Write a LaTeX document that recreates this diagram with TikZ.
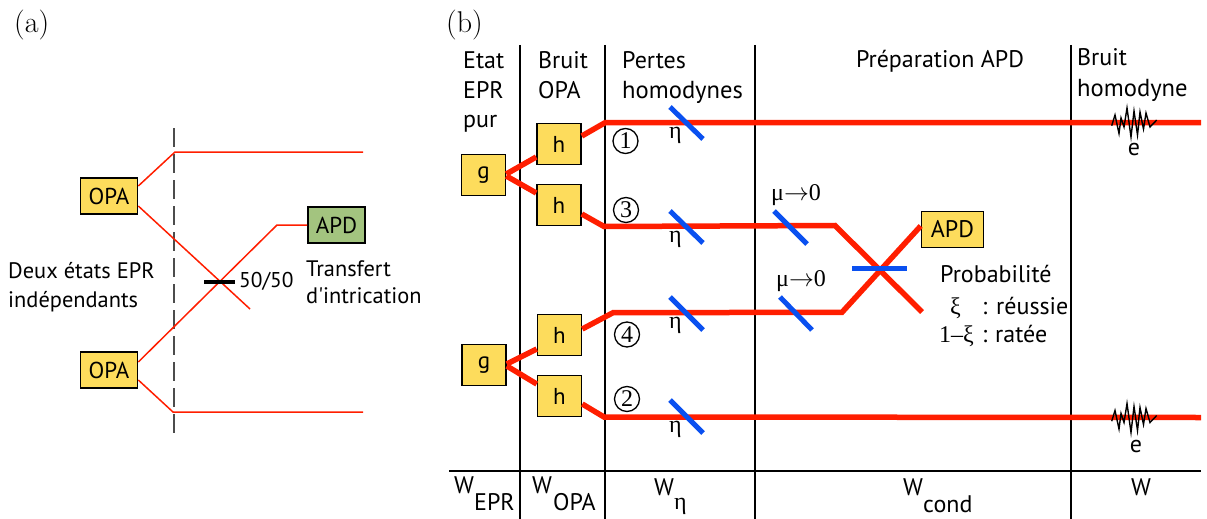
\documentclass[tikz,border=0pt]{standalone}
\usepackage{fontspec}
\setmainfont{PT Sans}[Ligatures=TeXOff]
\newfontfamily\gr{Liberation Serif}
\newfontfamily\lm{Latin Modern Roman}
\usetikzlibrary{calc}
\definecolor{boxy}{HTML}{FDDC5C}
\definecolor{boxg}{HTML}{A3C47F}
\definecolor{rd}{HTML}{FF1E00}
\definecolor{bl}{HTML}{0A50F0}
\tikzset{
  x=1pt,y=-1pt,
  lab/.style={anchor=base west,inner sep=0pt,font=\fontsize{24}{28}\selectfont},
  laba/.style={anchor=base west,inner sep=0pt,font=\fontsize{22.4}{26}\selectfont},
  tag/.style={anchor=base west,inner sep=0pt,font=\fontsize{30}{34}\selectfont},
  greek/.style={anchor=base west,inner sep=0pt,font=\fontsize{24}{28}\selectfont\gr},
  yb/.style={draw=black,line width=1.6pt,fill=boxy,inner sep=0pt,font=\fontsize{23}{27}\selectfont},
  gb/.style={draw=black,line width=1.6pt,fill=boxg,inner sep=0pt,font=\fontsize{23}{27}\selectfont},
  thin red/.style={draw=rd,line width=1.5pt},
  thick red/.style={draw=rd,line width=5.5pt},
  bs/.style={draw=bl,line width=5pt},
  sep/.style={draw=black,line width=1.8pt},
  num/.style={circle,draw=black,line width=1.3pt,minimum size=25pt,inner sep=0pt,font=\fontsize{24}{28}\selectfont\gr},
  noise/.style={draw=black,line width=1.4pt,line join=miter}
}
\begin{document}
\begin{tikzpicture}
\useasboundingbox (0,0) rectangle (1207,519);
% ---------- (a)
\node[tag] (la) at (14,33) {\lm (a)};
\draw[draw=black!70,line width=1.2pt,dash pattern=on 19pt off 7pt] (174,128) coordinate (dt) -- (174,435) coordinate (db);
\coordinate (a1) at (175,152); \coordinate (a1e) at (363,152);
\coordinate (a2e) at (250,309);
\coordinate (a3) at (277,225);
\coordinate (a4) at (173,412); \coordinate (a4e) at (363,412);
\node[yb,minimum width=57pt,minimum height=36pt] (opa1) at (109,196) {OPA};
\node[yb,minimum width=57pt,minimum height=36pt] (opa2) at (109,370) {OPA};
\node[gb,minimum width=57pt,minimum height=36pt] (apd1) at (336.5,225) {APD};
\draw[thin red] ($(opa1.east)+(0,-10)$) -- (a1) -- (a1e);
\draw[thin red] ($(opa1.east)+(0,10)$) -- (a2e);
\draw[thin red] ($(opa2.east)+(0,-8)$) -- (a3) -- (apd1.west);
\draw[thin red] ($(opa2.east)+(0,10)$) -- (a4) -- (a4e);
\coordinate (s1) at (204,282); \coordinate (s2) at (235,282);
\draw[draw=black,line width=3.5pt] (s1) -- (s2);
\node[laba,font=\fontsize{21.4}{26}\selectfont] (t5050) at (239,287) {50/50};
\node[laba] (t1) at (306,276) {Transfert};
\node[laba] (t2) at (306,303) {d'intrication};
\node[laba] (t3) at (8,278) {Deux états EPR};
\node[laba] (t4) at (8,307) {indépendants};
% ---------- (b)
\node[tag] (lb) at (446,33) {\lm (b)};
\coordinate (v1t) at (520,45); \coordinate (v1b) at (520,519);
\coordinate (v2t) at (605,45); \coordinate (v2b) at (605,519);
\coordinate (v3t) at (755,45); \coordinate (v3b) at (755,519);
\coordinate (v4t) at (1071,45); \coordinate (v4b) at (1071,519);
\coordinate (hl) at (449,471); \coordinate (hr) at (1201,471);
\draw[sep] (v1t) -- (v1b);
\draw[sep] (v2t) -- (v2b);
\draw[sep] (v3t) -- (v3b);
\draw[sep] (v4t) -- (v4b);
\draw[sep] (hl) -- (hr);
% red beams
\coordinate (b1) at (605,122.7); \coordinate (b1e) at (1201,122.5);
\coordinate (b3) at (604,226.5); \coordinate (b3m) at (835,225.5); \coordinate (b3e) at (922,312);
\coordinate (b4) at (613,312.7); \coordinate (b4m) at (842,312.3);
\coordinate (b2) at (604,417); \coordinate (b2e) at (1201,417.5);
\node[yb,minimum width=44pt,minimum height=41pt] (g1) at (483.5,175) {g};
\node[yb,minimum width=44pt,minimum height=41pt] (g2) at (484,365) {g};
\node[yb,minimum width=44pt,minimum height=41pt] (h1) at (559,144) {h};
\node[yb,minimum width=44pt,minimum height=41pt] (h3) at (559,205) {h};
\node[yb,minimum width=44pt,minimum height=41pt] (h4) at (559.5,335) {h};
\node[yb,minimum width=44pt,minimum height=41pt] (h2) at (559.5,396) {h};
\node[yb,minimum width=62pt,minimum height=36pt,font=\fontsize{24}{28}\selectfont] (apd2) at (952.5,229.5) {APD};
\draw[thick red] ($(g1.east)+(0,-1)$) -- ($(h1.west)+(0,13)$);
\draw[thick red] ($(g1.east)+(0,1)$) -- ($(h3.west)+(0,-12)$);
\draw[thick red] ($(g2.east)+(0,-1)$) -- ($(h4.west)+(0,14)$);
\draw[thick red] ($(g2.east)+(0,1)$) -- ($(h2.west)+(0,-12)$);
\draw[thick red,line join=miter] ($(h1.east)+(0,-8)$) -- (b1) -- (b1e);
\draw[thick red,line join=miter] ($(h3.east)+(0,9)$) -- (b3) -- (b3m) -- (b3e);
\draw[thick red,line join=miter] ($(h4.east)+(0,-6)$) -- (b4) -- (b4m) -- ($(apd2.west)+(0,-3.5)$);
\draw[thick red,line join=miter] ($(h2.east)+(0,8)$) -- (b2) -- (b2e);
% blue splitters
\foreach \n/\xa/\ya/\xb/\yb in {l1/670/107/703/139,l3/670/211/703/243,l4/670/297/703/330,l2/670/400/703/433,m1/774/211/807/244,m2/780/297/812/330,c/852/268/907/268}{
  \coordinate (\n a) at (\xa,\ya); \coordinate (\n b) at (\xb,\yb);
  \draw[bs] (\n a) -- (\n b);
}
% noise
\foreach \n/\dy in {na/0,nb/295.5}{
\draw[noise] plot[] coordinates {(1111.7,125.7+\dy) (1115,115+\dy) (1119,133.5+\dy) (1121,118+\dy) (1124,127+\dy) (1127,108+\dy) (1131,137+\dy) (1134,111+\dy) (1137.5,135+\dy) (1140,112+\dy) (1143.5,129+\dy) (1146,113+\dy) (1150,127+\dy) (1156.7,120+\dy)};
}
% circled numbers
\node[num] (n1) at (625.5,141) {1};
\node[num] (n3) at (626,210) {3};
\node[num] (n4) at (627,334.5) {4};
\node[num] (n2) at (627,399) {2};
% headers
\node[lab] (e1) at (463,68) {Etat};
\node[lab] (e2) at (463,98) {EPR};
\node[lab] (e3) at (463,127) {pur};
\node[lab] (b1t) at (538,68) {Bruit};
\node[lab] (b2t) at (538,98) {OPA};
\node[lab] (p1) at (622,68) {Pertes};
\node[lab,font=\fontsize{24.6}{28}\selectfont] (p2) at (622,98) {homodynes};
\node[lab,anchor=base] (p3) at (940,67) {Préparation APD};
\node[lab] (h1t) at (1077,66) {Bruit};
\node[lab,font=\fontsize{24.6}{28}\selectfont] (h2t) at (1077,96) {homodyne};
% eta
\node[greek] (et1) at (669,138) {η};
\node[greek] (et3) at (669,242) {η};
\node[greek] (et4) at (669,328) {η};
\node[greek] (et2) at (669,432) {η};
\node[greek] (mu1) at (771,200) {μ$\rightarrow$0};
\node[greek] (mu2) at (776,286) {μ$\rightarrow$0};
\node[lab,anchor=base] (ee1) at (1134,155) {e};
\node[lab,anchor=base] (ee2) at (1136,452) {e};
\node[lab] (pr) at (940,282) {Probabilité};
\node[greek] (xi1) at (950,314) {ξ};
\node[lab] (co1) at (982,314) {:};
\node[lab] (re) at (996,314) {réussie};
\node[greek] (xi2) at (939,342) {1–ξ};
\node[lab] (co2) at (982,342) {:};
\node[lab] (ra) at (995,342) {ratée};
% W labels
\node[lab] (w1) at (454,493) {W};
\node[lab] (w1s) at (474,510) {EPR};
\node[lab] (w2) at (532,493) {W};
\node[lab] (w2s) at (553,510) {OPA};
\node[lab] (w3) at (654,495) {W};
\node[greek] (w3s) at (674,509) {η};
\node[lab] (w4) at (903,495) {W};
\node[lab] (w4s) at (923,512) {cond};
\node[lab] (w5) at (1131,495) {W};
\end{tikzpicture}
\end{document}
